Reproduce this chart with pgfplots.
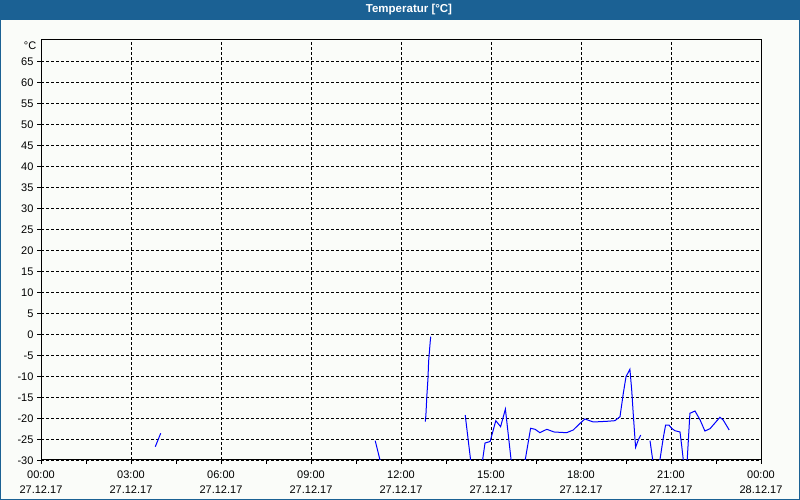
\documentclass[border=0pt]{standalone}
\usepackage{pgfplots}
\pgfplotsset{compat=1.18}
\usepackage{fontspec}
\setmainfont{Liberation Sans}
\definecolor{bar}{RGB}{27,97,148}
\definecolor{bg}{RGB}{250,252,249}
\begin{document}
\begin{tikzpicture}[x=1pt,y=1pt]
\useasboundingbox (0,0) rectangle (800,500);
\fill[bg] (0,0) rectangle (800,500);
\fill[bar] (0,480) rectangle (800,500);
\draw[bar,line width=2pt] (0,0) rectangle (800,500);
\node[text=white,font=\fontsize{11.5}{13}\selectfont\bfseries] at (409,490) {Temperatur [°C]};
\node[anchor=east,font=\fontsize{11}{12}\selectfont,inner sep=0pt] at (36.5,454) {°C};
\begin{axis}[
  at={(41pt,40pt)}, anchor=south west,
  scale only axis, width=720pt, height=420pt,
  xmin=0, xmax=24, ymin=-30, ymax=70,
  xtick={0,3,...,24},
  minor xtick={1.5,4.5,...,22.5},
  xticklabels={00:00\\27.12.17,03:00\\27.12.17,06:00\\27.12.17,09:00\\27.12.17,12:00\\27.12.17,15:00\\27.12.17,18:00\\27.12.17,21:00\\27.12.17,00:00\\28.12.17},
  ytick={-30,-25,...,65},
  tick align=outside, major tick length=4pt, minor tick length=4pt,
  tick style={black, line width=0.8pt},
  xtick pos=bottom, ytick pos=left,
  xmajorgrids, ymajorgrids,
  major grid style={black, line width=0.8pt, dash pattern=on 3pt off 2pt},
  axis line style={black, line width=1pt},
  ticklabel style={font=\fontsize{11}{15}\selectfont},
  xticklabel style={align=center, yshift=-3.5pt},
  yticklabel style={xshift=0pt, yshift=-1pt},
  /pgf/number format/assume math mode=true,
  /pgf/number format/.cd, 1000 sep={},
  /pgfplots/.cd,
  axis background/.style={fill=bg},
  unbounded coords=jump,
  clip=true,
]
\addplot[blue, line width=1pt, mark=none] coordinates {
(3.81,-26.83) (3.99,-23.64)
(3.99,nan)
(11.14,-25.40) (11.30,-30) (11.32,-30.6)
(11.32,nan)
(12.81,-20.88) (12.83,-19.29) (12.86,-14.93) (12.90,-10.48) (12.92,-6.60) (12.97,-2.14) (12.99,-0.64)
(12.99,nan)
(14.14,-19.29) (14.32,-30) (14.34,-30.6)
(14.34,nan)
(14.70,-30.6) (14.72,-30) (14.80,-25.95) (14.97,-25.6) (15.16,-20.64) (15.32,-22.07) (15.48,-17.86) (15.67,-30) (15.69,-30.6)
(15.69,nan)
(16.13,-30.6) (16.14,-30) (16.32,-22.45) (16.47,-22.69) (16.63,-23.5) (16.86,-22.69) (17.10,-23.33) (17.52,-23.5) (17.74,-22.86) (17.97,-21.26) (18.13,-20.24) (18.41,-20.95) (18.86,-20.79) (19.13,-20.64) (19.30,-19.69) (19.41,-14.12) (19.50,-10.17) (19.63,-8.4) (19.69,-13.33) (19.74,-18.88) (19.80,-25.07) (19.82,-26.98) (19.91,-25.24) (19.99,-24.05)
(19.99,nan)
(20.30,-25.4) (20.39,-30) (20.41,-30.6)
(20.41,nan)
(20.61,-30.6) (20.63,-30) (20.74,-24.83) (20.82,-21.67) (20.93,-21.67) (21.02,-22.45) (21.13,-23.02) (21.30,-23.33) (21.36,-26.83) (21.41,-30) (21.43,-30.6)
(21.43,nan)
(21.52,-30.6) (21.54,-30) (21.63,-18.88) (21.80,-18.33) (21.97,-20.48) (22.13,-23.1) (22.30,-22.55) (22.63,-19.83) (22.74,-20.48) (22.94,-22.86)
};
\end{axis}
\end{tikzpicture}
\end{document}
